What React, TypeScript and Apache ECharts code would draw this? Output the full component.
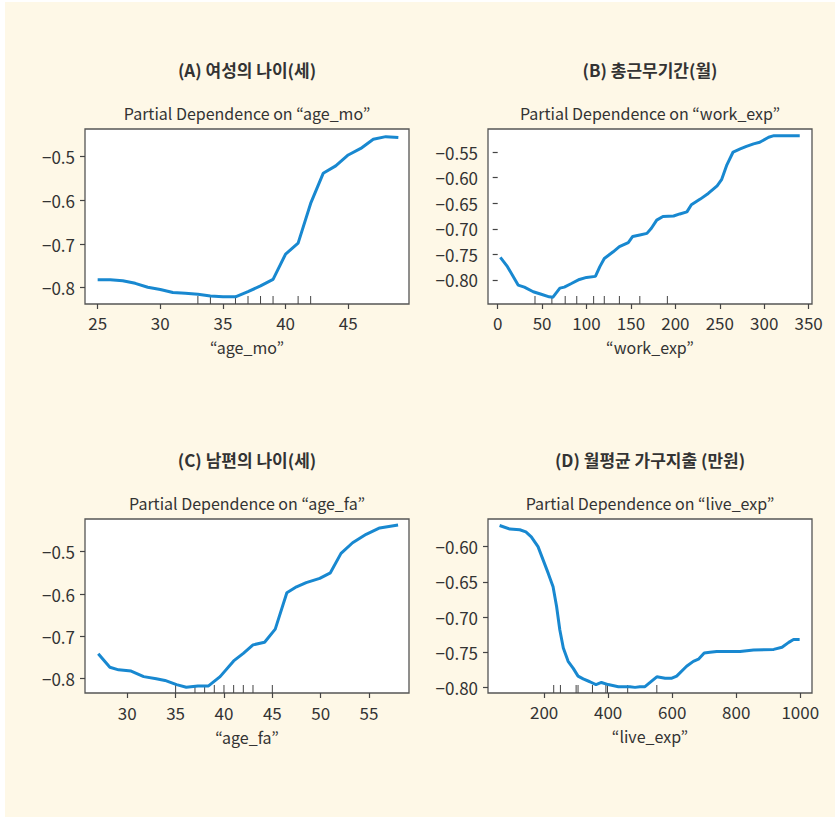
import React, { useEffect, useRef } from "react";
import * as echarts from "echarts";

// ---- Data ----
const ageMoX = [25, 26, 27, 28, 29, 30, 31, 32, 33, 34, 35, 36, 37, 38, 39, 40, 41, 42, 43, 44, 45, 46, 47, 48, 49];
const ageMoPD = [-0.782, -0.782, -0.784, -0.79, -0.799, -0.804, -0.811, -0.813, -0.815, -0.819, -0.821, -0.821, -0.809, -0.796, -0.781, -0.723, -0.698, -0.607, -0.538, -0.521, -0.496, -0.481, -0.46, -0.454, -0.456];
const ageMoRug = [33, 34, 36, 37, 38, 39, 41, 42];

const workExpX = [3, 11, 23, 30, 40, 49, 58, 62, 70, 75, 83, 92, 100, 110, 115, 120, 130, 137, 147, 152, 160, 168, 173, 179, 186, 198, 205, 213, 218, 228, 237, 247, 252, 258, 265, 273, 280, 288, 295, 305, 311, 326, 340];
const workExpPD = [-0.756, -0.774, -0.81, -0.814, -0.823, -0.828, -0.833, -0.834, -0.816, -0.814, -0.807, -0.799, -0.795, -0.793, -0.774, -0.758, -0.745, -0.735, -0.727, -0.715, -0.712, -0.709, -0.699, -0.683, -0.676, -0.675, -0.671, -0.667, -0.653, -0.642, -0.631, -0.616, -0.604, -0.575, -0.55, -0.544, -0.539, -0.534, -0.531, -0.521, -0.518, -0.518, -0.518];
const workExpRug = [42, 61, 76, 89, 108, 120, 137, 160, 191];

const ageFaX = [27, 28.2, 29.1, 30.4, 31.7, 33, 33.9, 35.1, 36.1, 37.3, 38.4, 39.6, 41, 42, 43, 44.2, 45.3, 46.5, 47.5, 48.5, 49.9, 51, 52.1, 53.3, 54.7, 56.1, 58];
const ageFaPD = [-0.741, -0.773, -0.779, -0.782, -0.795, -0.8, -0.804, -0.814, -0.82, -0.817, -0.817, -0.795, -0.758, -0.74, -0.72, -0.714, -0.683, -0.597, -0.583, -0.573, -0.563, -0.55, -0.504, -0.479, -0.459, -0.444, -0.437];
const ageFaRug = [35, 37, 38, 39, 40, 41, 42, 43, 45];

const liveExpX = [61, 93, 124, 143, 160, 181, 213, 228, 239, 249, 260, 275, 291, 306, 322, 343, 362, 379, 400, 432, 468, 484, 499, 515, 531, 552, 578, 599, 614, 645, 666, 682, 700, 718, 739, 812, 854, 917, 943, 964, 979, 998];
const liveExpPD = [-0.57, -0.575, -0.576, -0.579, -0.586, -0.6, -0.638, -0.657, -0.685, -0.718, -0.744, -0.763, -0.773, -0.784, -0.788, -0.792, -0.796, -0.793, -0.796, -0.799, -0.799, -0.8, -0.799, -0.799, -0.793, -0.785, -0.787, -0.787, -0.784, -0.77, -0.763, -0.76, -0.751, -0.75, -0.749, -0.749, -0.747, -0.746, -0.743, -0.736, -0.732, -0.732];
const liveExpRug = [230, 251, 300, 306, 351, 393, 398, 461, 552];

// tick values
const ageMoTicks = [25, 30, 35, 40, 45];
const workExpTicks = [0, 50, 100, 150, 200, 250, 300, 350];
const ageFaTicks = [30, 35, 40, 45, 50, 55];
const liveExpTicks = [200, 400, 600, 800, 1000];
const yTicksA = [-0.8, -0.7, -0.6, -0.5];
const yTicksB = [-0.8, -0.75, -0.7, -0.65, -0.6, -0.55];
const yTicksC = [-0.8, -0.7, -0.6, -0.5];
const yTicksD = [-0.8, -0.75, -0.7, -0.65, -0.6];

const panelTitles = ["(A) 여성의 나이(세)", "(B) 총근무기간(월)", "(C) 남편의 나이(세)", "(D) 월평균 가구지출 (만원)"];
const featureNames = ["age_mo", "work_exp", "age_fa", "live_exp"];

const FONT = "'Noto Sans CJK KR', 'Noto Sans', sans-serif";
const TXT = "#333333";
const LINE = "#1888d0";

const fmtMinus = (v: number, d: number) => (v < 0 ? "\u2212" : "") + Math.abs(v).toFixed(d);

export default function App() {
  const ref = useRef<HTMLDivElement>(null);
  useEffect(() => {
    if (!ref.current) return;
    const chart = echarts.init(ref.current, null, { renderer: "svg" });

    const grids = [
      { left: 85, top: 129, width: 324, height: 175 },
      { left: 488, top: 129, width: 324, height: 175 },
      { left: 85, top: 519, width: 324, height: 174 },
      { left: 488, top: 519, width: 324, height: 174 },
    ];
    const xRanges = [
      [23.99, 49.85],
      [-10.9, 353.8],
      [25.63, 59.13],
      [24.8, 1036.6],
    ];
    const yRanges = [
      [-0.8374, -0.4365],
      [-0.847, -0.505],
      [-0.8337, -0.4229],
      [-0.808, -0.5607],
    ];
    const xTicks = [ageMoTicks, workExpTicks, ageFaTicks, liveExpTicks];
    const yTicks = [yTicksA, yTicksB, yTicksC, yTicksD];
    const yDec = [1, 2, 1, 2];
    const xs = [ageMoX, workExpX, ageFaX, liveExpX];
    const ys = [ageMoPD, workExpPD, ageFaPD, liveExpPD];
    const rugs = [ageMoRug, workExpRug, ageFaRug, liveExpRug];
    const nameGaps = [35, 35, 36, 35];
    const labelMargins = [10, 10, 11, 10];

    const series: any[] = [];
    for (let i = 0; i < 4; i++) {
      series.push({
        type: "line",
        xAxisIndex: i,
        yAxisIndex: i,
        data: xs[i].map((x, k) => [x, ys[i][k]]),
        showSymbol: false,
        symbol: "none",
        lineStyle: { color: LINE, width: 3 },
        z: 3,
      });
      series.push({
        type: "custom",
        xAxisIndex: i,
        yAxisIndex: i,
        data: rugs[i].map((x) => [x, yRanges[i][0]]),
        renderItem: (params: any, api: any) => {
          const p = api.coord([api.value(0), api.value(1)]);
          const cs = params.coordSys;
          const yb = cs.y + cs.height;
          return {
            type: "line",
            shape: { x1: p[0], y1: yb, x2: p[0], y2: yb - 8 },
            style: { stroke: "#444", lineWidth: 1 },
          };
        },
        z: 2,
      });
    }

    const graphic: any[] = [];
    for (let i = 0; i < 4; i++) {
      const g = grids[i];
      const cx = g.left + g.width / 2;
      graphic.push({
        type: "text",
        x: cx,
        y: g.top - 60,
        style: {
          text: panelTitles[i],
          fill: TXT,
          font: `bold 17px ${FONT}`,
          textAlign: "center",
          textVerticalAlign: "middle",
        },
      });
      graphic.push({
        type: "text",
        x: cx,
        y: g.top - 16,
        style: {
          text: `Partial Dependence on \u201c${featureNames[i]}\u201d`,
          fill: TXT,
          font: `16px ${FONT}`,
          textAlign: "center",
          textVerticalAlign: "middle",
        },
      });
    }

    chart.setOption({
      animation: false,
      backgroundColor: "transparent",
      grid: grids.map((g) => ({
        ...g,
        show: true,
        backgroundColor: "#ffffff",
        borderColor: "#555555",
        borderWidth: 1.3,
        containLabel: false,
      })),
      xAxis: grids.map((_, i) => ({
        type: "value",
        gridIndex: i,
        min: xRanges[i][0],
        max: xRanges[i][1],
        name: `\u201c${featureNames[i]}\u201d`,
        nameLocation: "middle",
        nameGap: nameGaps[i],
        nameTextStyle: { color: TXT, fontSize: 16, fontFamily: FONT, lineHeight: 16 },
        axisLine: { show: false },
        splitLine: { show: false },
        axisTick: { show: true, customValues: xTicks[i], length: 5, lineStyle: { color: "#444", width: 1.2 } },
        axisLabel: {
          customValues: xTicks[i],
          color: TXT,
          fontSize: 17,
          lineHeight: 17,
          fontFamily: FONT,
          margin: labelMargins[i],
          formatter: (v: number) => String(v),
        },
      })),
      yAxis: grids.map((_, i) => ({
        type: "value",
        gridIndex: i,
        min: yRanges[i][0],
        max: yRanges[i][1],
        axisLine: { show: false },
        splitLine: { show: false },
        axisTick: { show: true, customValues: yTicks[i], length: 5, lineStyle: { color: "#444", width: 1.2 } },
        axisLabel: {
          customValues: yTicks[i],
          color: TXT,
          fontSize: 17,
          fontFamily: FONT,
          margin: 10,
          formatter: (v: number) => fmtMinus(v, yDec[i]),
        },
      })),
      series,
      graphic,
    });
    return () => chart.dispose();
  }, []);

  return (
    <div style={{ position: "fixed", left: 0, top: 0, width: 839, height: 820, background: "#ffffff" }}>
      <div style={{ position: "absolute", left: 5, top: 2, width: 830, height: 815, background: "#fef8e7" }} />
      <div ref={ref} style={{ position: "absolute", left: 0, top: 0, width: 839, height: 820 }} />
    </div>
  );
}
